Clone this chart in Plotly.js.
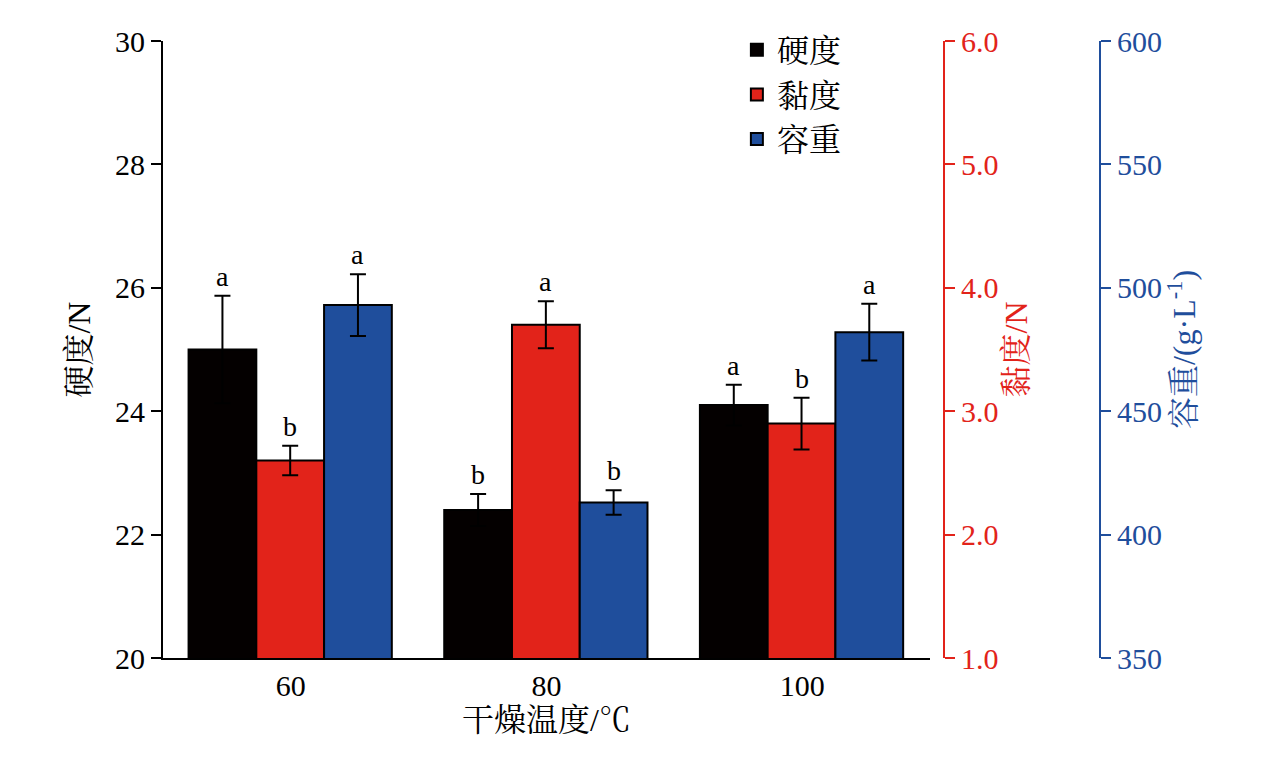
<!DOCTYPE html>
<html>
<head>
<meta charset="utf-8">
<script src="https://cdn.plot.ly/plotly-3.0.1.min.js"></script>
<style>body{margin:0}#chart{width:1276px;height:764px}</style>
</head>
<body>
<div id="chart"></div>
<script>
const temps = ["60", "80", "100"];
const hardness = [25.0, 22.4, 24.1];
const hardnessErr = [0.87, 0.26, 0.33];
const viscosity = [2.60, 3.70, 2.90];
const viscosityErr = [0.12, 0.19, 0.21];
const bulk = [493, 413, 482];
const bulkErr = [12.5, 5, 11.5];
const hardnessLetters = ["a", "b", "a"];
const viscosityLetters = ["b", "a", "b"];
const bulkLetters = ["a", "b", "a"];

const FONT = "Liberation Serif, Times New Roman, Noto Serif CJK SC, Noto Sans CJK SC, serif";
const RED = "#e2231a";
const BLUE = "#1f4e9c";
const W = 1053;
const xEnd = 767 / W;
const idx = temps.map((t, i) => i);

function barTrace(name, y, err, color, yaxis, offset){
    return {
        type: "bar", name: name, x: idx, y: y, yaxis: yaxis,
        width: 0.265, offset: offset,
        marker: {color: color, line: {color: "#000", width: 2}},
        error_y: {type: "data", array: err, color: "#000", thickness: 2, width: 8}
    };
}

let data = [
    barTrace("硬度", hardness, hardnessErr, "#040000", "y", -0.4),
    barTrace("黏度", viscosity, viscosityErr, RED, "y2", -0.135),
    barTrace("容重", bulk, bulkErr, BLUE, "y3", 0.13)
];

let annotations = [];
function letters(arr, vals, errs, yref, dx){
    arr.forEach((t, i) => {
        annotations.push({
            x: i + dx, y: vals[i] + errs[i], xref: "x", yref: yref,
            text: t, showarrow: false, yanchor: "bottom", yshift: 2,
            font: {family: FONT, size: 28, color: "#000"}
        });
    });
}
letters(hardnessLetters, hardness, hardnessErr, "y", -0.2675);
letters(viscosityLetters, viscosity, viscosityErr, "y2", -0.0025);
letters(bulkLetters, bulk, bulkErr, "y3", 0.2625);

let tickStyle = {ticks: "outside", ticklen: 10, tickwidth: 2, showgrid: false, zeroline: false, showline: true, linewidth: 2};

let layout = {
    width: 1276, height: 764,
    margin: {l: 163, r: 60, t: 41, b: 106},
    paper_bgcolor: "#fff", plot_bgcolor: "#fff",
    font: {family: FONT, size: 30, color: "#000"},
    showlegend: true,
    legend: {x: 0.545, y: 1.03, xanchor: "left", yanchor: "top", bgcolor: "rgba(0,0,0,0)",
        font: {size: 32}, tracegroupgap: 0},
    barmode: "overlay",
    xaxis: {domain: [0, xEnd], range: [-0.5, 2.5], tickvals: idx, ticktext: temps,
        showline: true, linewidth: 2, linecolor: "#000", zeroline: false,
        ticks: "", showgrid: false, tickfont: {size: 30},
        title: {text: "干燥温度/℃", font: {size: 32}, standoff: 5}},
    yaxis: Object.assign({}, tickStyle, {range: [20, 30], dtick: 2, linecolor: "#000", tickcolor: "#000",
        title: {text: "硬度/N", font: {size: 32}, standoff: 15}}),
    yaxis2: Object.assign({}, tickStyle, {range: [1, 6], dtick: 1, tickformat: ".1f", overlaying: "y",
        anchor: "free", side: "right", position: (944 - 163) / W, linecolor: RED, tickcolor: RED,
        tickfont: {color: RED, size: 30}, title: {text: "黏度/N", font: {size: 32, color: RED}, standoff: 5}}),
    yaxis3: Object.assign({}, tickStyle, {range: [350, 600], dtick: 50, overlaying: "y",
        anchor: "free", side: "right", position: (1100 - 163) / W, linecolor: BLUE, tickcolor: BLUE,
        tickfont: {color: BLUE, size: 30}, title: {text: "容重/(g·L<sup>-1</sup>)", font: {size: 32, color: BLUE}, standoff: 5}}),
    annotations: annotations
};

Plotly.newPlot("chart", data, layout, {displayModeBar: false});
</script>
</body>
</html>
